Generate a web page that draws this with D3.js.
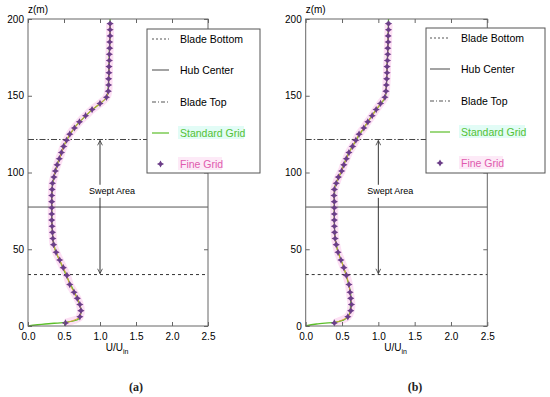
<!DOCTYPE html>
<meta charset="utf-8">
<script src="https://d3js.org/d3.v7.min.js"></script>
<style>
body { margin: 0; background: #fff; }
text { font-family: "Liberation Sans", Arial, sans-serif; }
.caption { font-family: "Liberation Serif", "DejaVu Serif", serif; font-weight: bold; }
</style>
<div id="chart"></div>
<script>
// tick labels
const xTicks = [0, 0.5, 1, 1.5, 2, 2.5];
const yTicks = [0, 50, 100, 150, 200];

// rotor reference heights (m)
const bladeBottom = 33.5, hubCenter = 77.5, bladeTop = 121.5;

const legendLabels = ["Blade Bottom", "Hub Center", "Blade Top", "Standard Grid", "Fine Grid"];

// fine grid samples (heights shared by both panels)
const zFine = [2, 6, 10, 14, 18, 22, 27, 33, 38, 43, 48, 53, 57, 61, 65, 69, 73, 77, 81, 85,
  89, 93, 97, 101, 105, 109, 113, 117, 121, 125, 129, 133, 137, 141, 145, 149, 153, 157,
  161, 165, 169, 173, 177, 181, 185, 189, 193, 197];
const uFineA = [0.52, 0.72, 0.735, 0.72, 0.685, 0.64, 0.58, 0.54, 0.49, 0.44, 0.39, 0.355,
  0.345, 0.34, 0.335, 0.33, 0.33, 0.33, 0.33, 0.33, 0.335, 0.34, 0.36, 0.38, 0.405, 0.435,
  0.465, 0.495, 0.535, 0.58, 0.645, 0.715, 0.80, 0.89, 1.0, 1.09, 1.115, 1.12, 1.12, 1.125,
  1.125, 1.13, 1.13, 1.135, 1.135, 1.14, 1.14, 1.14];
const uFineB = [0.394, 0.58, 0.62, 0.63, 0.62, 0.61, 0.595, 0.56, 0.525, 0.485, 0.445, 0.42,
  0.405, 0.398, 0.395, 0.394, 0.394, 0.394, 0.394, 0.39, 0.395, 0.42, 0.45, 0.495, 0.525,
  0.56, 0.595, 0.645, 0.69, 0.735, 0.80, 0.855, 0.915, 0.97, 1.03, 1.09, 1.105, 1.11, 1.115,
  1.12, 1.12, 1.125, 1.13, 1.13, 1.135, 1.135, 1.14, 1.14];

// standard grid samples
const zStd = [0, 1.3, 2.4, 3.9, 5.6, 10, 20, 30, 40, 50, 60, 70, 80, 90, 100, 110, 120, 130,
  140, 150, 160, 170, 180, 190, 200];
const uStdA = [0, 0.24, 0.51, 0.68, 0.72, 0.735, 0.665, 0.56, 0.465, 0.375, 0.34, 0.33, 0.33,
  0.337, 0.375, 0.44, 0.525, 0.66, 0.87, 1.10, 1.12, 1.125, 1.13, 1.14, 1.14];
const uStdB = [0, 0.15, 0.39, 0.52, 0.57, 0.615, 0.62, 0.575, 0.51, 0.435, 0.40, 0.394, 0.394,
  0.40, 0.485, 0.565, 0.68, 0.815, 0.955, 1.10, 1.115, 1.12, 1.13, 1.135, 1.14];

const W = 550, H = 397;
const plotTop = 19, plotBottom = 326;

const panels = [
  {caption: "(a)", fine: uFineA, std: uStdA, left: 28, right: 208, capX: 136,
   leg: {x: 147, y: 29, w: 113, h: 144, s0: 152, s1: 169, tx: 180, rows: [39, 70, 102, 133, 164]}},
  {caption: "(b)", fine: uFineB, std: uStdB, left: 305.7, right: 487.3, capX: 415,
   leg: {x: 426, y: 28, w: 119, h: 145, s0: 430, s1: 450, tx: 461, rows: [38, 69, 101, 132, 163]}}
];

const svg = d3.select("#chart").append("svg")
  .attr("width", W).attr("height", H);
svg.append("rect").attr("width", W).attr("height", H).attr("fill", "#fff");

// arrowheads
const defs = svg.append("defs");
defs.append("marker")
  .attr("id", "arrow")
  .attr("viewBox", "0 0 10 10")
  .attr("refX", 9).attr("refY", 5)
  .attr("markerWidth", 6).attr("markerHeight", 6)
  .attr("orient", "auto-start-reverse")
  .append("path")
    .attr("d", "M1,1 L9,5 L1,9")
    .attr("fill", "none").attr("stroke", "#333").attr("stroke-width", 1.3);

const star = "M0,-3.6 L1.3,-1.3 L3.6,0 L1.3,1.3 L0,3.6 L-1.3,1.3 L-3.6,0 L-1.3,-1.3 Z";

panels.forEach(p => {
  const x = d3.scaleLinear().domain([0, 2.5]).range([p.left, p.right]);
  const y = d3.scaleLinear().domain([0, 200]).range([plotBottom, plotTop]);
  const g = svg.append("g");

  const fineData = zFine.map((z, i) => ({z: z, u: p.fine[i]}));
  const stdData = zStd.map((z, i) => ({z: z, u: p.std[i]}));

  const line = d3.line()
    .x(d => x(d.u))
    .y(d => y(d.z))
    .curve(d3.curveMonotoneY);

  // pink halo behind the fine grid markers
  g.append("path")
    .attr("d", line(fineData))
    .attr("fill", "none")
    .attr("stroke", "#fde0f4")
    .attr("stroke-width", 8);

  // reference lines
  const refs = [
    {z: bladeBottom, dash: "3,3", color: "#333"},
    {z: hubCenter, dash: null, color: "#555"},
    {z: bladeTop, dash: "6,2,1.5,2", color: "#444"}
  ];
  g.selectAll(".ref")
    .data(refs)
    .join("line")
      .attr("x1", x(0)).attr("x2", x(2.5))
      .attr("y1", d => y(d.z)).attr("y2", d => y(d.z))
      .attr("stroke", d => d.color)
      .attr("stroke-width", 1)
      .attr("stroke-dasharray", d => d.dash);

  // swept area arrows
  g.append("line")
    .attr("x1", x(1)).attr("x2", x(1))
    .attr("y1", y(92)).attr("y2", y(bladeTop) + 1)
    .attr("stroke", "#333").attr("marker-end", "url(#arrow)");
  g.append("line")
    .attr("x1", x(1)).attr("x2", x(1))
    .attr("y1", y(83.5)).attr("y2", y(bladeBottom) - 1)
    .attr("stroke", "#333").attr("marker-end", "url(#arrow)");
  g.append("text")
    .attr("x", x(1) + 12).attr("y", y(86))
    .attr("text-anchor", "middle")
    .style("font-size", "9px")
    .attr("fill", "#000")
    .text("Swept Area");

  // standard grid
  g.append("path")
    .attr("d", line(stdData))
    .attr("fill", "none")
    .attr("stroke", "#5cbf2a")
    .attr("stroke-width", 1.3);

  // fine grid line and markers
  g.append("path")
    .attr("d", line(fineData))
    .attr("fill", "none")
    .attr("stroke", "#d6a13a")
    .attr("stroke-width", 1);
  g.selectAll(".pt")
    .data(fineData)
    .join("path")
      .attr("d", star)
      .attr("transform", d => `translate(${x(d.u)},${y(d.z)})`)
      .attr("fill", "#6b3d88");

  // frame
  g.append("rect")
    .attr("x", x(0)).attr("y", y(200))
    .attr("width", x(2.5) - x(0)).attr("height", y(0) - y(200))
    .attr("fill", "none").attr("stroke", "#666").attr("stroke-width", 1);

  // axes with inward ticks
  g.append("g").attr("transform", `translate(0,${plotBottom})`)
    .call(d3.axisBottom(x).tickValues(xTicks).tickSize(-4).tickPadding(7));
  g.append("g").attr("transform", `translate(${p.left},0)`)
    .call(d3.axisLeft(y).tickValues(yTicks).tickSize(-4).tickPadding(4));
  g.append("g").attr("transform", `translate(0,${plotTop})`)
    .call(d3.axisTop(x).tickValues(xTicks).tickSize(-4).tickFormat(""));
  g.append("g").attr("transform", `translate(${p.right},0)`)
    .call(d3.axisRight(y).tickValues(yTicks).tickSize(-4).tickFormat(""));
  g.selectAll(".domain").remove();
  g.selectAll(".tick line").attr("stroke", "#666");
  g.selectAll(".tick text")
    .style("font-size", "10px")
    .style("font-family", "'Liberation Sans', Arial, sans-serif")
    .attr("fill", "#000");

  // axis titles
  g.append("text")
    .attr("x", p.left).attr("y", 13)
    .style("font-size", "10px").attr("fill", "#000")
    .text("z(m)");
  const xl = g.append("text")
    .attr("x", (p.left + p.right) / 2 - 1).attr("y", 351)
    .attr("text-anchor", "middle")
    .style("font-size", "10px").attr("fill", "#000");
  xl.append("tspan").text("U/U");
  xl.append("tspan").attr("dy", 3).style("font-size", "7px").text("in");

  // legend
  const L = p.leg;
  const lg = g.append("g");
  lg.append("rect")
    .attr("x", L.x).attr("y", L.y).attr("width", L.w).attr("height", L.h)
    .attr("fill", "#fff").attr("stroke", "#555").attr("stroke-width", 1);
  const samples = [
    {dash: "2,2", color: "#555"},
    {dash: null, color: "#666"},
    {dash: "4,2,1,2", color: "#555"},
    {dash: null, color: "#5cbf2a"}
  ];
  samples.forEach((s, i) => {
    lg.append("line")
      .attr("x1", L.s0).attr("x2", L.s1)
      .attr("y1", L.rows[i]).attr("y2", L.rows[i])
      .attr("stroke", s.color).attr("stroke-width", 1.2)
      .attr("stroke-dasharray", s.dash);
  });
  lg.append("path")
    .attr("d", star)
    .attr("transform", `translate(${(L.s0 + L.s1) / 2},${L.rows[4]})`)
    .attr("fill", "#6b3d88");
  // faint highlights behind coloured legend entries
  lg.append("rect")
    .attr("x", L.tx - 2).attr("y", L.rows[3] - 7).attr("width", 66).attr("height", 13)
    .attr("fill", "#e2fcf6");
  lg.append("rect")
    .attr("x", L.tx - 2).attr("y", L.rows[4] - 7).attr("width", 44).attr("height", 13)
    .attr("fill", "#fdeaf7");
  const textColors = ["#000", "#000", "#000", "#52c234", "#e05aae"];
  legendLabels.forEach((t, i) => {
    lg.append("text")
      .attr("x", L.tx).attr("y", L.rows[i])
      .attr("dy", "0.35em")
      .style("font-size", "10.5px")
      .attr("fill", textColors[i])
      .text(t);
  });

  // caption
  g.append("text")
    .attr("class", "caption")
    .attr("x", p.capX).attr("y", 391)
    .attr("text-anchor", "middle")
    .style("font-size", "12px")
    .attr("fill", "#222")
    .text(p.caption);
});
</script>
